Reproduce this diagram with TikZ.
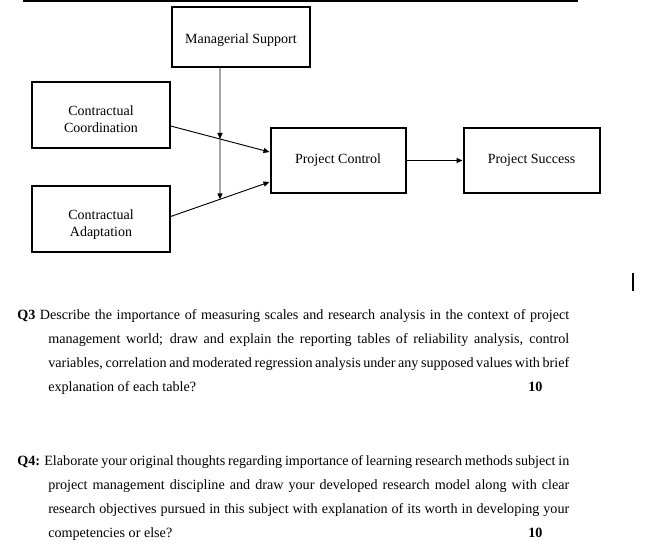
\documentclass[tikz,border=0pt]{standalone}
\usepackage{fontspec}
\setmainfont{Liberation Serif}
\usetikzlibrary{arrows.meta,positioning,calc}
\newcommand{\lowtext}[2]{\raisebox{-#1}[\height][\depth]{\begin{tabular}{@{}c@{}}#2\end{tabular}}}

\begin{document}
\begin{tikzpicture}[x=0.75pt,y=-0.75pt,
  box/.style={draw, line width=1.5pt, align=center, inner sep=2pt, minimum width=103pt, minimum height=48.75pt, font=\fontsize{10.5}{12.75}\selectfont},
  link/.style={line width=0.7pt, -{Triangle[length=4.5pt,width=3.8pt]}},
  qline/.style={anchor=base west, inner sep=0pt, font=\fontsize{10.6}{12}\selectfont}]
\useasboundingbox (0,0) rectangle (669,551);
\draw[line width=1.2pt] (23,0.8) -- (578,0.8);

% model
\node[box, minimum height=45pt] (ms) at (241,37) {\lowtext{2.25pt}{Managerial Support}};
\node[box, minimum height=49.5pt] (cc) at (101,115) {\lowtext{4.3pt}{Contractual\\Coordination}};
\node[box, minimum height=49.5pt, below=27pt of cc] (ca) {\lowtext{4.1pt}{Contractual\\Adaptation}};
\node[box, minimum width=101.25pt] (pc) at (338,160.5) {Project Control};
\node[box, minimum width=102pt, right=42pt of pc] (ps) {Project Success};

\coordinate (ccout) at ($(cc.east)+(0,11)$);
\coordinate (pcin1) at ($(pc.west)+(0,-8.5)$);
\coordinate (caout) at ($(ca.east)+(0,-2.5)$);
\coordinate (pcin2) at ($(pc.west)+(0,21.5)$);
\coordinate (msout) at ($(ms.south)+(-21,0)$);
\coordinate (msfoot) at (msout|-ca.south);
\coordinate (j1) at (intersection of ccout--pcin1 and msout--msfoot);
\coordinate (j2) at (intersection of caout--pcin2 and msout--msfoot);

\draw[link] (ccout) -- (pcin1);
\draw[link] (caout) -- (pcin2);
\draw[link] (msout) -- (j1);
\draw[link] (j1) -- (j2);
\draw[link] (pc) -- (ps);

\draw[line width=0.9pt] (633,273) -- (633,291);

% questions
\node[qline] (q3a) at (17,319) {\makebox[414pt][s]{\textbf{Q3} Describe the importance of measuring scales and research analysis in the context of project}};
\node[qline] (q3b) at (48,343) {\makebox[390.75pt][s]{management world; draw and explain the reporting tables of reliability analysis, control}};
\node[qline] (q3c) at (48,367) {\makebox[390.75pt][s]{variables, correlation and moderated regression analysis under any supposed values with brief}};
\node[qline] (q3d) at (48,391) {explanation of each table?};
\node[qline] (q3m) at (528,391) {\textbf{10}};

\node[qline] (q4a) at (17,465) {\makebox[414pt][s]{\textbf{Q4:} Elaborate your original thoughts regarding importance of learning research methods subject in}};
\node[qline] (q4b) at (48,489) {\makebox[390.75pt][s]{project management discipline and draw your developed research model along with clear}};
\node[qline] (q4c) at (48,513) {\makebox[390.75pt][s]{research objectives pursued in this subject with explanation of its worth in developing your}};
\node[qline] (q4d) at (48,537) {competencies or else?};
\node[qline] (q4m) at (528,537) {\textbf{10}};
\end{tikzpicture}
\end{document}
